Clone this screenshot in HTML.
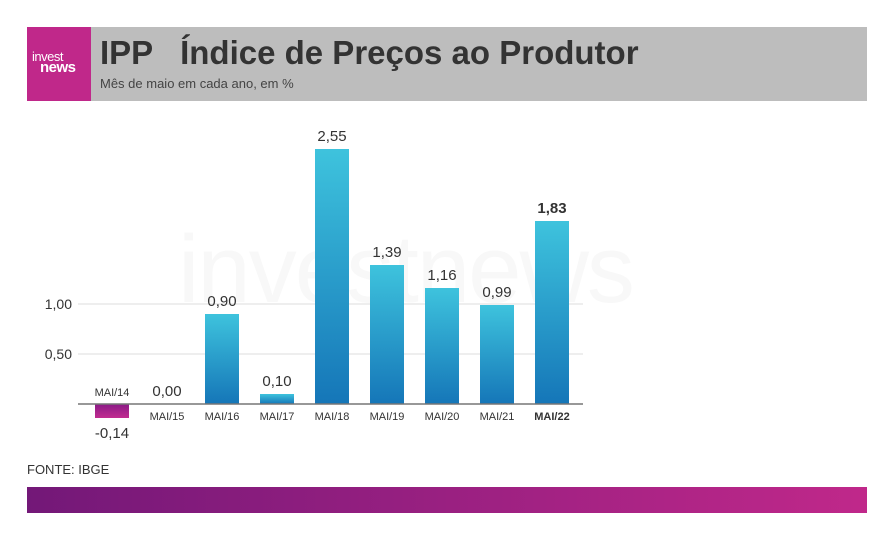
<!DOCTYPE html>
<html><head><meta charset="utf-8"><style>
body{margin:0;width:895px;height:540px;background:#fff;font-family:"Liberation Sans",sans-serif;position:relative;overflow:hidden}
.abs{position:absolute}
</style></head><body>
<div class="abs" style="left:27px;top:27px;width:840px;height:74px;background:#bdbdbd"></div>
<div class="abs" style="left:27px;top:27px;width:64px;height:74px;background:#c0288a;color:#fff">
<div style="position:absolute;left:5px;top:24px;font-size:13px;line-height:11px;letter-spacing:-0.5px">invest<br><b style="padding-left:8px;font-size:15px">news</b></div></div>
<div class="abs" style="left:100px;top:34px;font-size:33px;font-weight:bold;color:#333;white-space:pre">IPP   Índice de Preços ao Produtor</div>
<div class="abs" style="left:100px;top:76px;font-size:13px;color:#444">Mês de maio em cada ano, em %</div>
<div class="abs" style="left:178px;top:215px;font-size:96px;color:#f8f8f8;letter-spacing:-2px">investnews</div>
<div class="abs" style="left:27px;top:462px;font-size:13px;color:#333">FONTE: IBGE</div>
<div class="abs" style="left:27px;top:487px;width:840px;height:26px;background:linear-gradient(90deg,#731878,#c0288a)"></div>
<svg class="abs" style="left:0;top:0" width="895" height="540" id="chart">
<defs>
<linearGradient id="gb" x1="0" y1="0" x2="0" y2="1"><stop offset="0" stop-color="#3ec3dd"/><stop offset="1" stop-color="#1576b8"/></linearGradient>
<linearGradient id="gn" x1="0" y1="0" x2="0" y2="1"><stop offset="0" stop-color="#8a1a86"/><stop offset="1" stop-color="#c22c90"/></linearGradient>
</defs>
</svg>
<script>
const categories=["MAI/14","MAI/15","MAI/16","MAI/17","MAI/18","MAI/19","MAI/20","MAI/21","MAI/22"];
const values=[-0.14,0.00,0.90,0.10,2.55,1.39,1.16,0.99,1.83];
const tickValues=[0.5,1.0];
const tickLabels=["0,50","1,00"];
const svg=document.getElementById('chart');
const NS='http://www.w3.org/2000/svg';
const y0=404, scale=100, x0=112, step=55, bw=34;
const y=v=>y0-v*scale;
const x=i=>x0+i*step;
function mk(t,a){const e=document.createElementNS(NS,t);for(const k in a)e.setAttribute(k,a[k]);svg.appendChild(e);return e;}
tickValues.forEach((v,i)=>{
 const g=mk('line',{x1:78,x2:583,y1:y(v),y2:y(v),stroke:'#ddd'});
 
 
 const t=mk('text',{x:72,y:y(v)+5,'text-anchor':'end','font-size':14,fill:'#333'});
 t.textContent=tickLabels[i];
 
 
});
values.forEach((v,i)=>{
 const top=v>=0?y(v):y0, h=Math.abs(v)*scale;
 const r=mk('rect',{x:x(i)-bw/2,y:top,width:bw,height:Math.max(h,0.01),fill:v>=0?'url(#gb)':'url(#gn)'});
 
 
 const last=i===values.length-1;
 const vl=mk('text',{x:x(i),y:v>=0?top-8:y0+h+20,'text-anchor':'middle','font-size':15,fill:'#333','font-weight':last?'bold':'normal'});
 vl.textContent=v.toFixed(2).replace('.',',');
 
 
 const cl=mk('text',{x:x(i),y:v>=0?y0+16:y0-8,'text-anchor':'middle','font-size':11,fill:'#333','font-weight':last?'bold':'normal'});
 cl.textContent=categories[i];
 
 
});
const ax=mk('line',{x1:78,x2:583,y1:y0,y2:y0,stroke:'#777','stroke-width':1.5});


</script>
</body></html>
